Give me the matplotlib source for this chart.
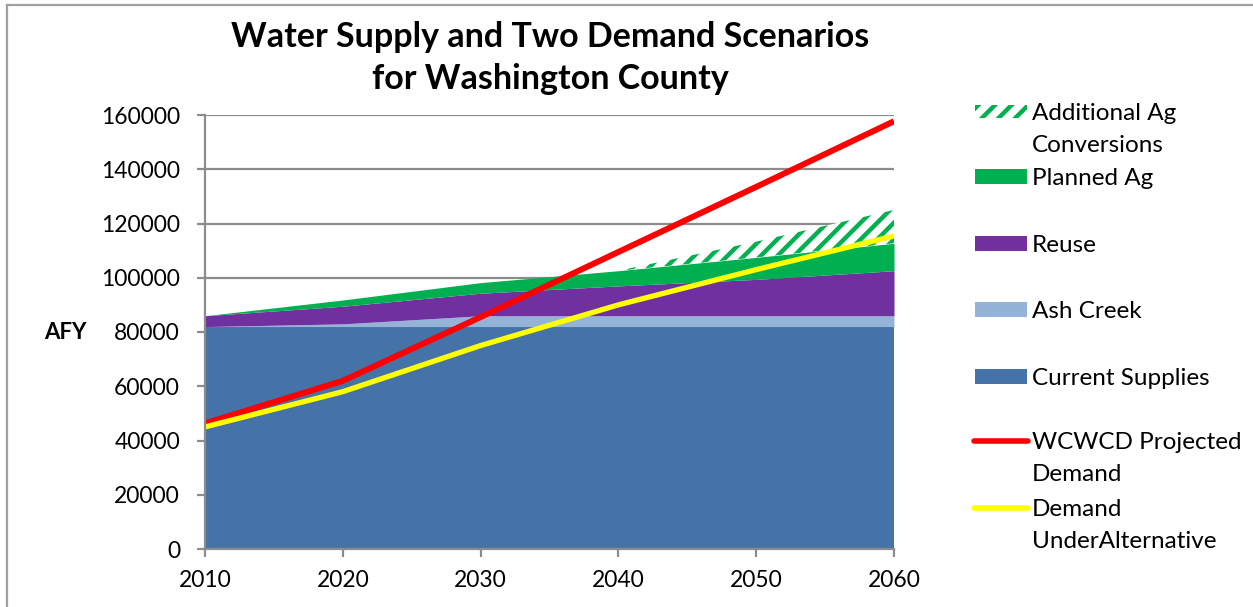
import matplotlib.pyplot as plt
from matplotlib.patches import Rectangle
from matplotlib.lines import Line2D

plt.rcParams['font.family'] = ['Lato', 'DejaVu Sans']
plt.rcParams['hatch.linewidth'] = 3.2

years = [2010, 2020, 2030, 2040, 2050, 2060]
current = [82000, 82000, 82000, 82000, 82000, 82000]
ash_creek = [0, 1000, 4000, 4000, 4000, 4000]
reuse = [4000, 6500, 8300, 11000, 13400, 16600]
planned_ag = [0, 2300, 3900, 5600, 8100, 10100]
additional_ag = [0, 0, 0, 0, 5800, 12300]
wcwcd_demand = [46300, 62000, 85500, 109500, 133500, 157700]
alt_demand = [45000, 58000, 75000, 90000, 103000, 115400]

c_current = '#4572A7'
c_ash = '#95B3D7'
c_reuse = '#7030A0'
c_ag = '#00B050'
c_red = '#FF0000'
c_yellow = '#FFFF00'
grid_c = '#8C8C8C'

fig = plt.figure(figsize=(12.53, 6.07), dpi=100)
ax = fig.add_axes([205 / 1253, 1 - 549 / 607, (894 - 205) / 1253, (549 - 115) / 607])

b0 = [0] * len(years)
b1 = current
b2 = [a + b for a, b in zip(b1, ash_creek)]
b3 = [a + b for a, b in zip(b2, reuse)]
b4 = [a + b for a, b in zip(b3, planned_ag)]
b5 = [a + b for a, b in zip(b4, additional_ag)]

ax.fill_between(years, b0, b1, color=c_current, lw=0, zorder=2)
ax.fill_between(years, b1, b2, color=c_ash, lw=0, zorder=2)
ax.fill_between(years, b2, b3, color=c_reuse, lw=0, zorder=2)
ax.fill_between(years, b3, b4, color=c_ag, lw=0, zorder=2)
ax.fill_between(years, b4, b5, facecolor='white', edgecolor=c_ag, hatch='//', lw=0, zorder=2)

ax.plot(years, wcwcd_demand, color=c_red, lw=4.3, zorder=4, solid_capstyle='butt')
ax.plot(years, alt_demand, color=c_yellow, lw=3.8, zorder=4, solid_capstyle='butt')

ax.set_xlim(2010, 2060)
ax.set_ylim(0, 160000)
ax.set_xticks(years)
ax.set_yticks(range(0, 160001, 20000))
ax.yaxis.grid(True, color=grid_c, lw=1.6, zorder=1)
ax.set_axisbelow(True)
for s in ['top', 'right']:
    ax.spines[s].set_visible(False)
for s in ['left', 'bottom']:
    ax.spines[s].set_color(grid_c)
    ax.spines[s].set_linewidth(1.6)
    ax.spines[s].set_zorder(5)
ax.tick_params(axis='both', colors=grid_c, width=1.6, length=6, labelsize=16.5,
               labelcolor='black')
ax.tick_params(axis='y', pad=12)
ax.tick_params(axis='x', pad=9)

fig.text(65 / 1253, 1 - 333 / 607, 'AFY', fontsize=16, fontweight='bold',
         ha='center', va='center')
fig.text(550 / 1253, 1 - 58 / 607, 'Water Supply and Two Demand Scenarios\nfor Washington County',
         fontsize=24.5, fontweight='bold', ha='center', va='center', linespacing=1.38)

# legend drawn in figure pixels
def fx(x):
    return x / 1253

def fy(y):
    return 1 - y / 607

legend_items = [
    ('hatch', 112, 'Additional Ag\nConversions'),
    ('patch', 177, 'Planned Ag', c_ag),
    ('patch', 244, 'Reuse', c_reuse),
    ('patch', 310, 'Ash Creek', c_ash),
    ('patch', 377, 'Current Supplies', c_current),
    ('line', 441, 'WCWCD Projected\nDemand', c_red),
    ('line', 508, 'Demand\nUnderAlternative', c_yellow),
]
for item in legend_items:
    kind, y, label = item[0], item[1], item[2]
    if kind == 'hatch':
        fig.patches.append(Rectangle((fx(975), fy(y + 6)), fx(52), 13 / 607, transform=fig.transFigure,
                                     facecolor='white', edgecolor=c_ag, hatch='//', lw=0))
    elif kind == 'patch':
        fig.patches.append(Rectangle((fx(975), fy(y + 7)), fx(52), 15 / 607, transform=fig.transFigure,
                                     facecolor=item[3], lw=0))
    else:
        fig.lines.append(Line2D([fx(974), fx(1028)], [fy(y), fy(y)], transform=fig.transFigure,
                                color=item[3], lw=4, solid_capstyle='round'))
    fig.text(fx(1032), fy(y - 9), label, fontsize=17.5, ha='left', va='top', linespacing=1.62)

# chart border
fig.lines.append(Line2D([fx(7), fx(1253)], [fy(5), fy(5)], transform=fig.transFigure,
                        color='#A0A0A0', lw=1.6))
fig.lines.append(Line2D([fx(7), fx(7)], [fy(5), fy(607)], transform=fig.transFigure,
                        color='#A0A0A0', lw=1.6))

plt.savefig('out.png', dpi=100)
